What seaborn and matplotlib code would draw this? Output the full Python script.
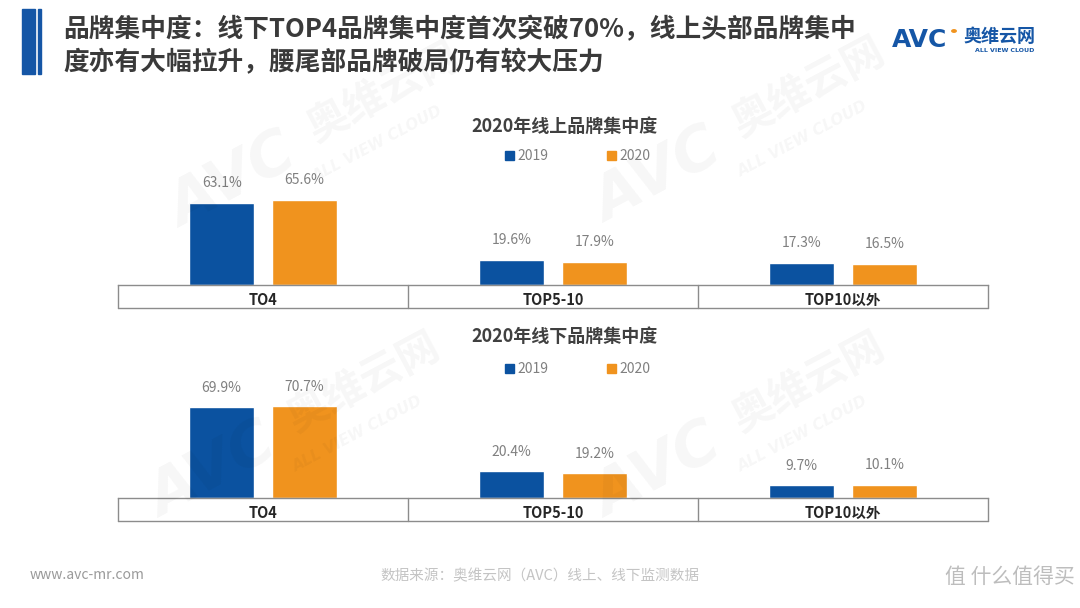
import matplotlib
matplotlib.use("Agg")
import matplotlib.pyplot as plt
import seaborn as sns
import pandas as pd
from matplotlib.patches import Rectangle, Circle

sns.set_theme(style="white")
plt.rcParams['font.family'] = ['Noto Sans CJK SC', 'DejaVu Sans']

# ---------------- data ----------------
categories = ["TO4", "TOP5-10", "TOP10以外"]
years = ["2019", "2020"]
online_2019 = [63.1, 19.6, 17.3]
online_2020 = [65.6, 17.9, 16.5]
offline_2019 = [69.9, 20.4, 9.7]
offline_2020 = [70.7, 19.2, 10.1]

title_line1 = "品牌集中度：线下TOP4品牌集中度首次突破70%，线上头部品牌集中"
title_line2 = "度亦有大幅拉升，腰尾部品牌破局仍有较大压力"
sub_online = "2020年线上品牌集中度"
sub_offline = "2020年线下品牌集中度"
source_text = "数据来源：奥维云网（AVC）线上、线下监测数据"
site_text = "www.avc-mr.com"

BLUE = "#0B52A0"
ORANGE = "#F0931E"
palette = {"2019": BLUE, "2020": ORANGE}

W, H = 1080, 608
fig = plt.figure(figsize=(W / 100, H / 100), dpi=100)
fig.patch.set_facecolor("white")


def px_axes(left, top, right, bottom):
    return fig.add_axes([left / W, 1 - bottom / H, (right - left) / W, (bottom - top) / H])


def make_df(v19, v20):
    rows = []
    for c, a, b in zip(categories, v19, v20):
        rows.append({"cat": c, "year": "2019", "val": a})
        rows.append({"cat": c, "year": "2020", "val": b})
    return pd.DataFrame(rows)


def draw_panel(baseline_px, v19, v20, subtitle, sub_y, legend_y):
    ymax = 90
    top_px = baseline_px - 117
    ax = px_axes(118, top_px, 988, baseline_px)
    df = make_df(v19, v20)
    sns.barplot(data=df, x="cat", y="val", hue="year", hue_order=years,
                order=categories, palette=palette, width=0.57, gap=0.22,
                saturation=1, legend=False, ax=ax, errorbar=None)
    ax.set_ylim(0, ymax)
    ax.set_xlim(-0.5, 2.5)
    ax.set_ylabel("")
    ax.set_xlabel("")
    ax.set_yticks([])
    for s in ["top", "left", "right"]:
        ax.spines[s].set_visible(False)
    ax.spines["bottom"].set_color("#8c8c8c")
    ax.spines["bottom"].set_linewidth(1.0)
    ax.tick_params(axis="x", length=0, pad=5)
    for lab in ax.get_xticklabels():
        lab.set_fontweight("bold")
        lab.set_fontsize(10.5)
        lab.set_color("#262626")
    # table row lines
    row_h = 23 / 117
    trans = ax.get_xaxis_transform()
    ax.plot([-0.5, 2.5], [-row_h, -row_h], transform=trans, color="#8c8c8c",
            lw=1.0, clip_on=False)
    for xv in [-0.5, 0.5, 1.5, 2.5]:
        ax.plot([xv, xv], [0, -row_h], transform=trans, color="#8c8c8c",
                lw=1.0, clip_on=False)
    # value labels
    for cont in ax.containers:
        ax.bar_label(cont, labels=[f"{b.get_height():.1f}%" for b in cont],
                     padding=9, color="#808080", fontsize=10)
    # subtitle
    fig.text(565 / W, 1 - sub_y / H, subtitle, ha="center", va="center",
             fontsize=13, fontweight="bold", color="#404040")
    # legend
    handles = [Rectangle((0, 0), 1, 1, color=palette[y]) for y in years]
    leg = fig.legend(handles, years, loc="center", ncol=2,
                     bbox_to_anchor=(578 / W, 1 - legend_y / H),
                     frameon=False, handlelength=0.6, handleheight=0.6,
                     handletextpad=0.3, columnspacing=4.2, fontsize=10)
    for t in leg.get_texts():
        t.set_color("#808080")
    return ax


draw_panel(285, online_2019, online_2020, sub_online, 126, 156)
draw_panel(498, offline_2019, offline_2020, sub_offline, 369 - 33, 369)

# header decorations
fig.patches.append(Rectangle((22 / W, 1 - 74 / H), 13 / W, 65 / H,
                             transform=fig.transFigure, color="#1556A6"))
fig.patches.append(Rectangle((38 / W, 1 - 74 / H), 3 / W, 65 / H,
                             transform=fig.transFigure, color="#1556A6"))
fig.text(63 / W, 1 - 30 / H, title_line1, ha="left", va="center",
         fontsize=18.5, fontweight="bold", color="#3a3a3a")
fig.text(63 / W, 1 - 63 / H, title_line2, ha="left", va="center",
         fontsize=18.5, fontweight="bold", color="#3a3a3a")

# logo
fig.text(892 / W, 1 - 40 / H, "AVC", ha="left", va="center", fontsize=18,
         fontweight="bold", color="#1556A6", family=["DejaVu Sans"])
fig.patches.append(Circle((954 / W, 1 - 31 / H), 2.2 / W,
                          transform=fig.transFigure, color=ORANGE))
fig.text(963 / W, 1 - 36 / H, "奥维云网", ha="left", va="center",
         fontsize=13, fontweight="bold", color="#1556A6")
fig.text(975 / W, 1 - 50 / H, "ALL VIEW CLOUD", ha="left", va="center",
         fontsize=4.5, fontweight="bold", color="#1556A6",
         family=["DejaVu Sans"])

# watermarks
for (x, y) in [(160, 240), (585, 235), (140, 530), (585, 530)]:
    fig.text(x / W, 1 - y / H, "AVC", ha="left", va="bottom", rotation=28,
             fontsize=44, fontweight="bold", fontstyle="italic",
             color="#000000", alpha=0.035, family=["DejaVu Sans"])
    fig.text((x + 140) / W, 1 - (y - 90) / H, "奥维云网", ha="left",
             va="bottom", rotation=28, fontsize=30, fontweight="bold",
             color="#000000", alpha=0.035)
    fig.text((x + 150) / W, 1 - (y - 55) / H, "ALL VIEW CLOUD", ha="left",
             va="bottom", rotation=28, fontsize=11, fontweight="bold",
             fontstyle="italic", color="#000000", alpha=0.035,
             family=["DejaVu Sans"])

# footer
fig.text(30 / W, 1 - 575 / H, site_text, ha="left", va="center",
         fontsize=10, color="#9a9a9a")
fig.text(540 / W, 1 - 576 / H, source_text, ha="center", va="center",
         fontsize=10.5, color="#c4c4c4")
fig.text(1075 / W, 1 - 577 / H, "值 什么值得买", ha="right", va="center",
         fontsize=15, color="#bdbdbd")

fig.savefig("out.png", dpi=100, facecolor="white")
